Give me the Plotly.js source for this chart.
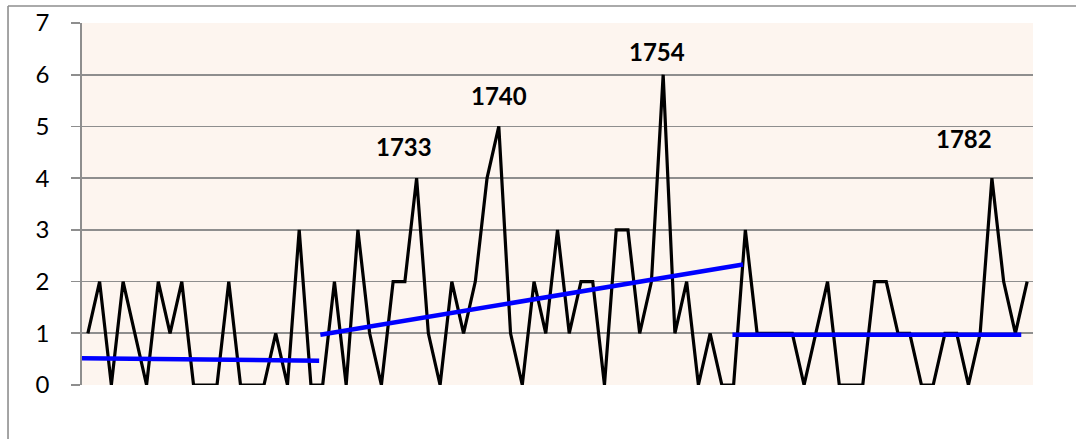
<!DOCTYPE html>
<html>
<head>
<meta charset="utf-8">
<script src="https://cdn.plot.ly/plotly-3.0.1.min.js"></script>
<style>
  html, body { margin: 0; padding: 0; background: #ffffff; }
  #chart { width: 1076px; height: 439px; }
</style>
</head>
<body>
<div id="chart"></div>
<script>
// Years (categories)
const years = [];
for (let y = 1705; y <= 1785; y++) years.push(y);

// Yearly counts
const counts = [
  1, 2, 0, 2, 1, 0, 2, 1, 2, 0,   // 1705-1714
  0, 0, 2, 0, 0, 0, 1, 0, 3, 0,   // 1715-1724
  0, 2, 0, 3, 1, 0, 2, 2, 4, 1,   // 1725-1734
  0, 2, 1, 2, 4, 5, 1, 0, 2, 1,   // 1735-1744
  3, 1, 2, 2, 0, 3, 3, 1, 2, 6,   // 1745-1754
  1, 2, 0, 1, 0, 0, 3, 1, 1, 1,   // 1755-1764
  1, 0, 1, 2, 0, 0, 0, 2, 2, 1,   // 1765-1774
  1, 0, 0, 1, 1, 0, 1, 4, 2, 1,   // 1775-1784
  2                               // 1785
];

// Trend segments (hand-drawn trend lines)
const trend1Years = [1704.0, 1724.7];
const trend1Values = [0.52, 0.47];
const trend2Years = [1724.8, 1760.8];
const trend2Values = [0.97, 2.33];
const trend3Years = [1759.9, 1784.5];
const trend3Values = [0.97, 0.97];

// Peak labels
const peakLabels = ['1733', '1740', '1754', '1782'];
const peakLabelYears = [1731.9, 1740.0, 1753.5, 1779.6];
const peakLabelValues = [4.61, 5.59, 6.45, 4.76];

const traces = [
  { x: years, y: counts, type: 'scatter', mode: 'lines',
    line: { color: '#000000', width: 3.2 }, hoverinfo: 'x+y' },
  { x: trend1Years, y: trend1Values, type: 'scatter', mode: 'lines',
    line: { color: '#0000FF', width: 4.5 } },
  { x: trend2Years, y: trend2Values, type: 'scatter', mode: 'lines',
    line: { color: '#0000FF', width: 4.5 } },
  { x: trend3Years, y: trend3Values, type: 'scatter', mode: 'lines',
    line: { color: '#0000FF', width: 4.5 } }
];

const annotations = peakLabels.map((t, i) => ({
  x: peakLabelYears[i], y: peakLabelValues[i], xref: 'x', yref: 'y',
  text: '<b>' + t + '</b>', showarrow: false,
  font: { family: 'Lato, Carlito, sans-serif', size: 24, color: '#000000' }
}));

const layout = {
  width: 1076, height: 439,
  margin: { l: 82, r: 43, t: 23, b: 54 },
  paper_bgcolor: '#ffffff',
  plot_bgcolor: '#FDF5EF',
  showlegend: false,
  xaxis: {
    range: [1704.5, 1785.5],
    showgrid: false, zeroline: false, showticklabels: false,
    showline: false, ticks: ''
  },
  yaxis: {
    range: [0, 7], dtick: 1, tick0: 0,
    showgrid: true, gridcolor: '#8E8E8E', gridwidth: 1.7,
    zeroline: false,
    showline: true, linecolor: '#8E8E8E', linewidth: 1.7,
    ticks: 'outside', ticklen: 9, tickcolor: '#8E8E8E', tickwidth: 1.7,
    ticklabelstandoff: 17,
    tickfont: { family: 'Lato, Carlito, sans-serif', size: 24, color: '#000000' }
  },
  annotations: annotations,
  shapes: [
    { type: 'line', xref: 'paper', yref: 'paper',
      x0: -0.0778, x1: 1.05, y0: 1.047, y1: 1.047,
      line: { color: '#8E8E8E', width: 1.6 }, layer: 'above' },
    { type: 'line', xref: 'paper', yref: 'paper',
      x0: -0.0778, x1: -0.0778, y0: -0.2, y1: 1.047,
      line: { color: '#8E8E8E', width: 1.6 }, layer: 'above' }
  ]
};

Plotly.newPlot('chart', traces, layout, { displayModeBar: false, staticPlot: true });
</script>
</body>
</html>
